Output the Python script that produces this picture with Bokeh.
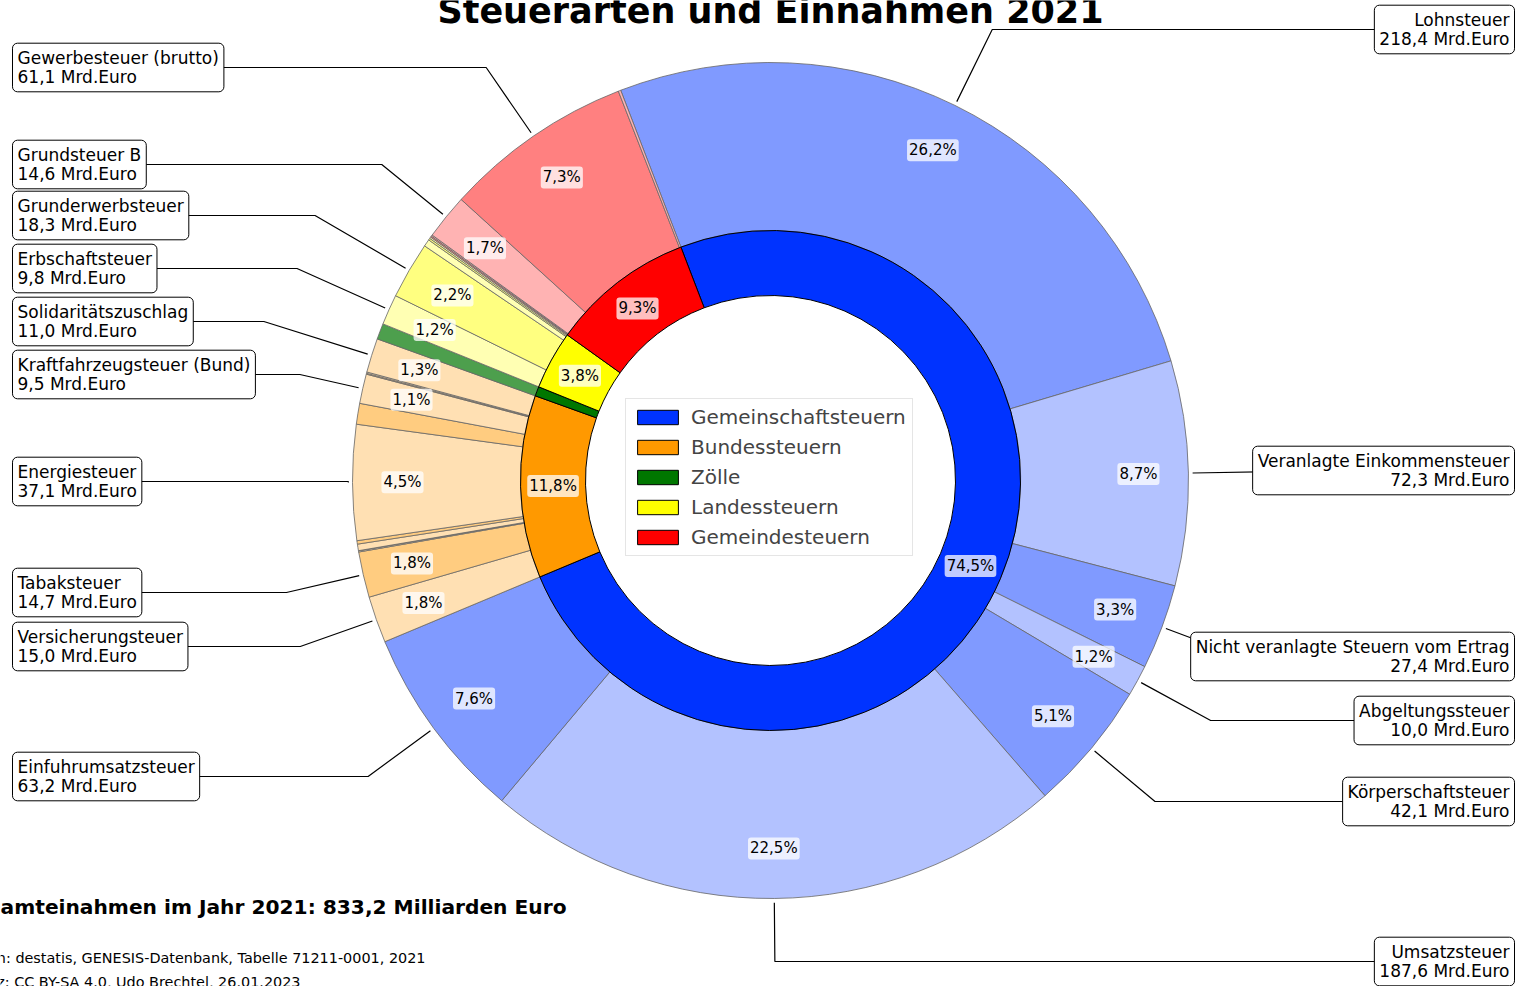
import math
from bokeh.plotting import figure
from bokeh.models import ColumnDataSource, Range1d, Legend, LegendItem
from bokeh.core.properties import value
from bokeh.embed import file_html
from bokeh.resources import INLINE

# ---------------- data ----------------
group_names = ["Gemeinschaftsteuern", "Bundessteuern", "Zölle", "Landessteuern", "Gemeindesteuern"]

tax_names = [
    "Lohnsteuer", "Veranlagte Einkommensteuer", "Nicht veranlagte Steuern vom Ertrag",
    "Abgeltungssteuer", "Körperschaftsteuer", "Umsatzsteuer", "Einfuhrumsatzsteuer",
    "Versicherungsteuer", "Tabaksteuer", "Schaumweinsteuer", "Zwischenerzeugnissteuer",
    "Alkoholsteuer", "Kaffeesteuer", "Energiesteuer", "Stromsteuer",
    "Kraftfahrzeugsteuer (Bund)", "Luftverkehrsteuer", "Sonstige Bundessteuern", "Solidaritätszuschlag",
    "Zölle",
    "Erbschaftsteuer", "Grunderwerbsteuer", "Rennwett- und Lotteriesteuer", "Biersteuer", "Feuerschutzsteuer",
    "Grundsteuer A", "Hundesteuer", "Grundsteuer B", "Gewerbesteuer (brutto)", "Sonstige Gemeindesteuern",
]
tax_values = [
    218.4, 72.3, 27.4, 10.0, 42.1, 187.6, 63.2,
    15.0, 14.7, 0.4, 0.03, 2.1, 1.1, 37.1, 6.7, 9.5, 0.3, 0.4, 11.0,
    5.1,
    9.8, 18.3, 2.3, 0.6, 0.5,
    0.4, 0.4, 14.57, 61.1, 0.8,
]
tax_group = [0] * 7 + [1] * 12 + [2] + [3] * 5 + [4] * 5

# ---------------- styles / layout ----------------
group_colors = ["#0033ff", "#ff9900", "#007700", "#ffff00", "#ff0000"]
tax_colors = [
    "#809aff", "#b3c2ff", "#809aff", "#b3c2ff", "#809aff", "#b3c2ff", "#809aff",
    "#ffe0b3", "#ffcc80", "#ffe0b3", "#ffcc80", "#ffe0b3", "#ffcc80", "#ffe0b3", "#ffcc80",
    "#ffe0b3", "#ffcc80", "#ffe0b3", "#ffe0b3",
    "#4d9f4d",
    "#ffffb3", "#ffff80", "#ffffb3", "#ffff80", "#ffffb3",
    "#ff8080", "#ffb3b3", "#ffb3b3", "#ff8080", "#ffb3b3",
]
# vertical centre (screen px) of each annotation box
label_box_y = {
    "Lohnsteuer": 29, "Veranlagte Einkommensteuer": 470,
    "Nicht veranlagte Steuern vom Ertrag": 656, "Abgeltungssteuer": 720,
    "Körperschaftsteuer": 801, "Umsatzsteuer": 961, "Einfuhrumsatzsteuer": 776,
    "Versicherungsteuer": 646, "Tabaksteuer": 592, "Energiesteuer": 481,
    "Kraftfahrzeugsteuer (Bund)": 374, "Solidaritätszuschlag": 321,
    "Erbschaftsteuer": 268, "Grunderwerbsteuer": 215, "Grundsteuer B": 164,
    "Gewerbesteuer (brutto)": 67,
}
BOX_LEFT, BOX_RIGHT = 12, 1514

W, H = 1517, 986
def sy(v):  # screen y -> data y
    return H - v

CX, CY = 770, sy(480)
R0, R1, R2 = 185, 250, 418
START = 111.0
FONT = value("DejaVu Sans")

total = sum(tax_values)
k = 2 * math.pi / total
a0 = math.radians(START)

# outer ring
o_start, o_end, o_mid = [], [], []
cum = 0.0
for v in tax_values:
    s = a0 - cum * k
    cum += v
    e = a0 - cum * k
    o_start.append(s); o_end.append(e); o_mid.append((s + e) / 2)

# inner ring
group_values = [sum(v for v, g in zip(tax_values, tax_group) if g == i) for i in range(len(group_names))]
i_start, i_end, i_mid = [], [], []
cum = 0.0
for v in group_values:
    s = a0 - cum * k
    cum += v
    e = a0 - cum * k
    i_start.append(s); i_end.append(e); i_mid.append((s + e) / 2)

def fmt(x):
    return f"{x:.1f}".replace(".", ",")

p = figure(width=W, height=H, x_range=Range1d(0, W), y_range=Range1d(0, H),
           output_backend="svg", toolbar_location=None,
           x_axis_location=None, y_axis_location=None, min_border=0,
           outline_line_color=None, background_fill_color="white")
p.grid.visible = False

src_out = ColumnDataSource(dict(start=o_start, end=o_end, color=tax_colors, name=tax_names))
p.annular_wedge(x=CX, y=CY, inner_radius=R1, outer_radius=R2, start_angle="start", end_angle="end",
                direction="clock", fill_color="color", line_color="#666666", line_width=0.8,
                source=src_out)

src_in = ColumnDataSource(dict(start=i_start, end=i_end, color=group_colors, name=group_names))
r_in = p.annular_wedge(x=CX, y=CY, inner_radius=R0, outer_radius=R1, start_angle="start", end_angle="end",
                       direction="clock", fill_color="color", line_color="black", line_width=1,
                       source=src_in)

# connector lines + annotation boxes
xs, ys = [], []
lx, ly, ltxt, rx, ry, rtxt = [], [], [], [], [], []
for name, v, m in zip(tax_names, tax_values, o_mid):
    if name not in label_box_y:
        continue
    by = sy(label_box_y[name])
    px = CX + 1.01 * R2 * math.cos(m)
    py = CY + 1.01 * R2 * math.sin(m)
    sn = math.sin(m)
    t = (by - py) / sn if abs(sn) > 1e-6 else -1
    ex = px + t * math.cos(m) if t >= 0 else px
    left = math.cos(m) < 0
    endx = BOX_LEFT + 20 if left else BOX_RIGHT - 20
    xs.append([px, ex, endx]); ys.append([py, by, by])
    txt = f"{name}\n{fmt(v)} Mrd.Euro"
    if left:
        lx.append(BOX_LEFT); ly.append(by); ltxt.append(txt)
    else:
        rx.append(BOX_RIGHT); ry.append(by); rtxt.append(txt)

p.multi_line(xs=xs, ys=ys, line_color="black", line_width=1.2)

# percent labels
plx, ply, ptx = [], [], []
for v, m in zip(tax_values, o_mid):
    pct = v / total * 100
    if pct >= 1:
        plx.append(CX + 368 * math.cos(m)); ply.append(CY + 368 * math.sin(m)); ptx.append(fmt(pct) + "%")
for v, m in zip(group_values, i_mid):
    pct = v / total * 100
    if pct >= 1:
        plx.append(CX + 217.5 * math.cos(m)); ply.append(CY + 217.5 * math.sin(m)); ptx.append(fmt(pct) + "%")
p.text(x=plx, y=ply, text=ptx, text_align="center", text_baseline="middle",
       text_font=FONT, text_font_size="15px", text_color="black",
       background_fill_color="white", background_fill_alpha=0.75, padding=2, border_radius=3)

box_kw = dict(text_baseline="middle", text_font=FONT, text_font_size="17px", text_color="black",
              text_line_height=0.93, background_fill_color="white", border_line_color="black",
              border_line_width=1, padding=5, border_radius=5)
p.text(x=lx, y=ly, text=ltxt, text_align="left", **box_kw)
p.text(x=rx, y=ry, text=rtxt, text_align="right", **box_kw)

# titles / footer
p.text(x=[770], y=[sy(10)], text=["Steuerarten und Einnahmen 2021"], text_align="center",
       text_baseline="alphabetic", text_font=FONT, text_font_size="35px", text_font_style="bold")
p.text(x=[566], y=[sy(906)], text=["Gesamteinahmen im Jahr 2021: 833,2 Milliarden Euro"],
       text_align="right", text_baseline="alphabetic", text_font=FONT, text_font_size="20.2px",
       text_font_style="bold")
p.text(x=[425, 300], y=[sy(957), sy(981)],
       text=["Daten: destatis, GENESIS-Datenbank, Tabelle 71211-0001, 2021",
             "Lizenz: CC BY-SA 4.0, Udo Brechtel, 26.01.2023"],
       text_align="right", text_baseline="alphabetic", text_font=FONT, text_font_size="14.4px")

legend = Legend(items=[LegendItem(label=g, renderers=[r_in], index=i) for i, g in enumerate(group_names)],
                location=(625, H - 556), padding=6, spacing=6, margin=0,
                glyph_width=51, glyph_height=18, label_height=22, label_standoff=8,
                label_text_font="DejaVu Sans", label_text_font_size="20px",
                border_line_color="#cccccc", border_line_width=1,
                background_fill_color="white", background_fill_alpha=0.9)
p.add_layout(legend)

open("out.html", "w").write(file_html(p, INLINE))
